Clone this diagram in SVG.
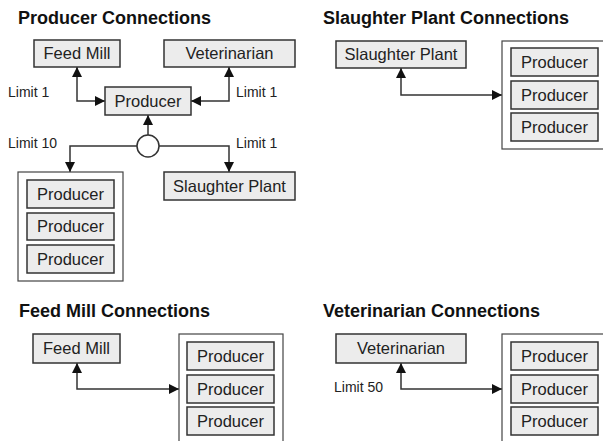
<svg xmlns="http://www.w3.org/2000/svg" width="603" height="441" viewBox="0 0 603 441">
<style>
.title{font-family:"Liberation Sans",Arial,sans-serif;font-weight:bold;font-size:18px;fill:#111}
.lbl{font-family:"Liberation Sans",Arial,sans-serif;font-size:16.5px;fill:#222;text-anchor:middle}
.lim{font-family:"Liberation Sans",Arial,sans-serif;font-size:14px;fill:#222}
.box{fill:#ececec;stroke:#333;stroke-width:1.5}
.cont{fill:#fff;stroke:#444;stroke-width:1.2}
.conn{fill:none;stroke:#333;stroke-width:1.5}
</style>
<defs>
<marker id="ah" viewBox="0 0 10 10" refX="10" refY="5" markerWidth="10" markerHeight="10" markerUnits="userSpaceOnUse" orient="auto-start-reverse">
<path d="M0,0 L10,5 L0,10 z" fill="#111"/>
</marker>
</defs>
<rect width="603" height="441" fill="#fff"/>

<g id="titles">
<text class="title" x="18" y="24">Producer Connections</text>
<text class="title" x="323" y="24">Slaughter Plant Connections</text>
<text class="title" x="19" y="317">Feed Mill Connections</text>
<text class="title" x="323" y="317">Veterinarian Connections</text>
</g>

<g id="labels">
<text class="lim" x="8" y="97">Limit 1</text>
<text class="lim" x="236" y="97">Limit 1</text>
<text class="lim" x="8" y="148">Limit 10</text>
<text class="lim" x="236" y="148">Limit 1</text>
<text class="lim" x="334" y="392">Limit 50</text>
</g>

<g id="connectors">
<path class="conn" d="M77,67 V101 H105" marker-start="url(#ah)" marker-end="url(#ah)"/>
<path class="conn" d="M229,67 V101 H191" marker-start="url(#ah)" marker-end="url(#ah)"/>
<path class="conn" d="M148,135 V115" marker-end="url(#ah)"/>
<path class="conn" d="M137,146 H70 V172" marker-end="url(#ah)"/>
<path class="conn" d="M159,146 H229 V172" marker-end="url(#ah)"/>
<path class="conn" d="M401,68 V95 H502" marker-start="url(#ah)" marker-end="url(#ah)"/>
<path class="conn" d="M77,363 V389 H179" marker-start="url(#ah)" marker-end="url(#ah)"/>
<path class="conn" d="M401,363 V389 H502" marker-start="url(#ah)" marker-end="url(#ah)"/>
</g>

<!-- Panel 1 -->
<g id="p1-feedmill"><rect class="box" x="34" y="40" width="86" height="27"/><text class="lbl" x="77" y="59">Feed Mill</text></g>
<g id="p1-vet"><rect class="box" x="164" y="40" width="131" height="27"/><text class="lbl" x="229.5" y="59">Veterinarian</text></g>
<g id="p1-producer"><rect class="box" x="105" y="87" width="86" height="28"/><text class="lbl" x="148" y="106.5">Producer</text></g>
<g id="p1-junction"><circle cx="148" cy="146" r="11" fill="#fff" stroke="#333" stroke-width="1.5"/></g>
<g id="p1-group">
<rect class="cont" x="18" y="172" width="105" height="109"/>
<rect class="box" x="27" y="180" width="87" height="28"/><text class="lbl" x="70.5" y="199.5">Producer</text>
<rect class="box" x="27" y="213" width="87" height="27"/><text class="lbl" x="70.5" y="232">Producer</text>
<rect class="box" x="27" y="245" width="87" height="28"/><text class="lbl" x="70.5" y="264.5">Producer</text>
</g>
<g id="p1-slaughter"><rect class="box" x="164" y="172" width="131" height="28"/><text class="lbl" x="229.5" y="191.5">Slaughter Plant</text></g>

<!-- Panel 2 -->
<g id="p2-slaughter"><rect class="box" x="336" y="41" width="130" height="27"/><text class="lbl" x="401" y="60">Slaughter Plant</text></g>
<g id="p2-group">
<rect class="cont" x="502" y="41" width="110" height="108"/>
<rect class="box" x="511" y="48" width="87" height="28"/><text class="lbl" x="554.5" y="67.5">Producer</text>
<rect class="box" x="511" y="81" width="87" height="28"/><text class="lbl" x="554.5" y="100.5">Producer</text>
<rect class="box" x="511" y="113" width="87" height="28"/><text class="lbl" x="554.5" y="132.5">Producer</text>
</g>

<!-- Panel 3 -->
<g id="p3-feedmill"><rect class="box" x="33" y="334" width="87" height="29"/><text class="lbl" x="76.5" y="354">Feed Mill</text></g>
<g id="p3-group">
<rect class="cont" x="179" y="334" width="104" height="120"/>
<rect class="box" x="187" y="342" width="87" height="28"/><text class="lbl" x="230.5" y="361.5">Producer</text>
<rect class="box" x="187" y="375" width="87" height="28"/><text class="lbl" x="230.5" y="394.5">Producer</text>
<rect class="box" x="187" y="407" width="87" height="28"/><text class="lbl" x="230.5" y="426.5">Producer</text>
</g>

<!-- Panel 4 -->
<g id="p4-vet"><rect class="box" x="336" y="334" width="130" height="29"/><text class="lbl" x="401" y="354">Veterinarian</text></g>
<g id="p4-group">
<rect class="cont" x="502" y="334" width="110" height="120"/>
<rect class="box" x="511" y="342" width="87" height="28"/><text class="lbl" x="554.5" y="361.5">Producer</text>
<rect class="box" x="511" y="375" width="87" height="28"/><text class="lbl" x="554.5" y="394.5">Producer</text>
<rect class="box" x="511" y="407" width="87" height="28"/><text class="lbl" x="554.5" y="426.5">Producer</text>
</g>
</svg>
